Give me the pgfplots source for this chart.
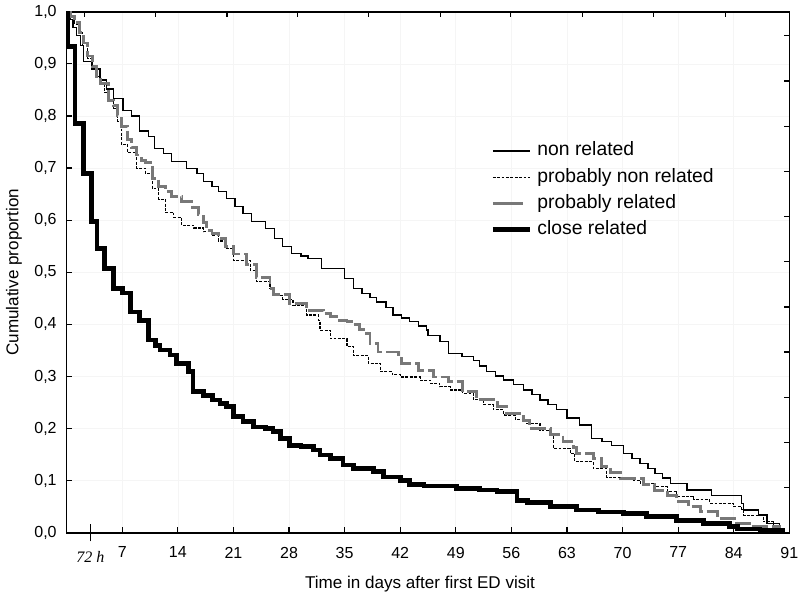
\documentclass[border=0pt]{standalone}
\usepackage{pgfplots}
\pgfplotsset{compat=1.18}
\usepackage{fontspec}
\setmainfont{Liberation Sans}
\newfontfamily\timesfont{Liberation Serif}
\pgfplotsset{graylegend/.style={legend image code/.code={\draw[##1,solid] (0pt,0pt) -- (22.5pt,0pt);}}}
\begin{document}
\begin{tikzpicture}
\begin{axis}[name=ax,
 scale only axis, width=541.95pt, height=390.75pt,
 xmin=0, xmax=91, ymin=0, ymax=1,
 axis line style={line width=1.2pt},
 tick align=inside, major tick length=4pt, tick style={black, line width=0.9pt},
 xtick pos=left, ytick pos=left,
 xtick={7,14,21,28,35,42,49,56,63,70,77,84,91},
 xticklabels={7,14,21,28,35,42,49,56,63,70,77,84,91},
 ytick={0,0.1,0.2,0.3,0.4,0.5,0.6,0.7,0.8,0.9,1.0},
 yticklabels={{0,0},{0,1},{0,2},{0,3},{0,4},{0,5},{0,6},{0,7},{0,8},{0,9},{1,0}},
 ticklabel style={font=\fontsize{12}{14}\selectfont},
 xticklabel style={yshift=-7pt},
 yticklabel style={xshift=-4pt},
 extra x ticks={3},
 extra x tick labels={\timesfont\itshape 72 h},
 extra x tick style={grid=none, tick align=center, major tick length=12.75pt, xticklabel style={yshift=3pt}},
 grid=major, major grid style={black!4, line width=0.5pt},
 xlabel={Time in days after first ED visit},
 ylabel={Cumulative proportion},
 xlabel style={at={(axis description cs:0.489,-0.0985)}, anchor=center, font=\fontsize{12.8}{15}\selectfont},
 ylabel style={at={(axis description cs:-0.0729,0.5)}, anchor=center, font=\fontsize{12.8}{15}\selectfont},
 legend cell align=left,
 legend style={draw=none, fill=none, at={(axis description cs:0.586,0.7505)}, anchor=north west,
   inner sep=0pt, row sep=6.4pt, column sep=4pt,
   nodes={inner sep=0pt, text height=10.3pt, text depth=3pt},
   font=\fontsize{14.5}{16}\selectfont},
 legend image code/.code={\draw[#1] (0pt,0pt) -- (27.75pt,0pt);},
 const plot, no markers,
]
\addplot[black, line width=1pt] coordinates {
(0,1.0) (0.4,0.985) (0.8,0.97) (1.2,0.955) (1.7,0.935) (2.1,0.905) (3.2,0.89) (4.2,0.869)
(5.0,0.852) (5.9,0.834) (7.1,0.811) (8.2,0.80) (9.2,0.771) (10.3,0.76) (11.1,0.738) (12.2,0.728)
(13.2,0.712) (15.1,0.699) (16.4,0.69) (17.2,0.674) (18.3,0.664) (19.1,0.655) (20.1,0.642)
(21.2,0.626) (22.2,0.613) (23.3,0.597) (25.0,0.584) (26.2,0.565) (27.2,0.55) (28.3,0.536)
(29.5,0.531) (30.4,0.527) (32.1,0.507) (35.0,0.488) (36.1,0.469) (37.2,0.459) (38.2,0.452)
(39.0,0.443) (40.2,0.432) (41.1,0.418) (42.2,0.412) (43.2,0.405) (44.3,0.397) (45.3,0.389)
(45.5,0.379) (47.0,0.367) (48.1,0.344) (49.8,0.338) (51.2,0.331) (52.0,0.32) (52.9,0.309)
(54.0,0.301) (55.0,0.293) (56.3,0.284) (57.5,0.274) (58.6,0.265) (59.6,0.255) (60.6,0.246)
(61.7,0.236) (63.0,0.22) (64.6,0.207) (66.1,0.181) (67.4,0.175) (68.6,0.168) (70.1,0.152)
(71.2,0.143) (72.2,0.133) (73.2,0.124) (74.1,0.114) (75.0,0.105) (76.0,0.095) (78.1,0.082)
(81.2,0.072) (85.0,0.056) (85.2,0.044) (87.1,0.034) (88.2,0.018) (89.8,0.005) (90.3,0)
};
\addlegendentry{non related}
\addplot[black, line width=0.8pt, dash pattern=on 2.2pt off 1.1pt] coordinates {
(0,1.0) (0.5,0.985) (1.0,0.975) (1.5,0.96) (2.0,0.935) (2.6,0.91) (3.2,0.89) (3.8,0.875)
(4.3,0.86) (4.8,0.845) (5.3,0.83) (5.9,0.815) (6.4,0.79) (6.9,0.745) (7.7,0.73) (8.8,0.70)
(9.9,0.69) (10.8,0.66) (11.6,0.64) (12.4,0.615) (13.5,0.605) (14.5,0.59) (16.0,0.585)
(17.2,0.578) (18.3,0.57) (19.1,0.56) (20.0,0.545) (21.0,0.523) (23.1,0.504) (23.9,0.483)
(25.6,0.469) (26.0,0.456) (27.2,0.447) (28.5,0.437) (30.2,0.418) (31.7,0.408) (31.9,0.389)
(33.2,0.372) (35.3,0.357) (36.1,0.34) (38.0,0.325) (39.5,0.309) (41.0,0.303) (42.0,0.299)
(44.5,0.293) (45.8,0.287) (47.0,0.28) (48.3,0.274) (49.9,0.268) (51.2,0.255) (52.5,0.246)
(53.7,0.236) (55.0,0.226) (56.5,0.218) (57.9,0.21) (59.6,0.197) (60.9,0.191) (61.3,0.162)
(63.4,0.152) (64.0,0.136) (66.3,0.124) (68.0,0.107) (71.4,0.101) (72.2,0.095) (73.9,0.088)
(75.6,0.079) (76.8,0.069) (78.9,0.063) (81.0,0.056) (84.0,0.05) (85.0,0.044) (85.2,0.034)
(87.7,0.021) (89.0,0.012) (89.8,0.005) (90.3,0)
};
\addlegendentry{probably non related}
\addplot[color={rgb,255:red,120;green,120;blue,120}, line width=2.2pt, dash pattern=on 12pt off 3pt,
  graylegend] coordinates {
(0,1.0) (0.5,0.99) (1.0,0.98) (1.6,0.96) (2.1,0.94) (2.6,0.915) (3.2,0.895) (3.8,0.875)
(4.3,0.862) (5.3,0.83) (5.9,0.82) (6.4,0.80) (6.9,0.78) (7.7,0.755) (8.2,0.74) (8.8,0.725)
(9.4,0.715) (9.9,0.71) (10.8,0.68) (11.6,0.665) (12.4,0.655) (13.2,0.645) (14.5,0.635)
(15.9,0.625) (16.6,0.61) (17.2,0.595) (17.6,0.58) (18.3,0.575) (19.1,0.565) (20.0,0.55)
(21.0,0.535) (22.7,0.514) (23.9,0.49) (25.6,0.469) (26.0,0.458) (28.1,0.44) (30.2,0.427)
(32.3,0.42) (33.2,0.415) (34.0,0.408) (35.3,0.405) (36.1,0.399) (36.9,0.39) (37.8,0.383)
(38.2,0.364) (39.2,0.347) (41.8,0.335) (42.2,0.325) (44.3,0.312) (46.2,0.299) (48.1,0.29)
(49.9,0.271) (51.6,0.255) (54.2,0.242) (55.4,0.229) (57.5,0.216) (58.3,0.2) (60.9,0.188)
(62.5,0.175) (63.8,0.163) (64.2,0.152) (66.3,0.143) (67.4,0.127) (68.5,0.115) (69.7,0.104)
(72.6,0.092) (74.0,0.082) (75.6,0.072) (76.8,0.06) (78.3,0.05) (79.8,0.04) (81.9,0.028)
(84.4,0.018) (86.5,0.012) (89.8,0.002) (90.5,0)
};
\addlegendentry{probably related}
\addplot[black, line width=3.5pt] coordinates {
(0,1.0) (0.1,0.933) (1.05,0.786) (2.1,0.69) (3.15,0.597) (3.8,0.545) (4.8,0.507) (5.9,0.469)
(7.0,0.46) (8.0,0.424) (9.2,0.408) (10.3,0.37) (11.2,0.36) (11.75,0.351) (13.0,0.341)
(13.85,0.325) (15.3,0.309) (15.9,0.271) (17.2,0.264) (18.4,0.255) (19.3,0.248) (20.1,0.242)
(21.0,0.223) (22.2,0.213) (23.5,0.203) (25.0,0.2) (26.0,0.194) (26.9,0.181) (28.1,0.168)
(29.5,0.165) (31.1,0.159) (31.9,0.149) (33.2,0.143) (34.8,0.13) (36.1,0.124) (38.6,0.117)
(39.9,0.107) (42.0,0.1) (43.2,0.093) (45.0,0.09) (49.1,0.085) (52.0,0.082) (54.2,0.079)
(56.7,0.062) (58.0,0.058) (60.9,0.05) (64.2,0.044) (67.0,0.04) (70.1,0.037) (73.0,0.031)
(76.8,0.024) (80.2,0.018) (83.5,0.012) (84.5,0.007) (87.3,0.004) (90.2,0)
};
\addlegendentry{close related}
\end{axis}
\begin{axis}[
 scale only axis, width=541.95pt, height=390.75pt,
 xmin=0, xmax=91, ymin=0, ymax=1,
 axis line style={draw=none},
 tick align=inside, major tick length=4pt, tick style={black, line width=0.9pt},
 xtick pos=right, ytick pos=right,
 xtick={2.2,11.2,20.2,29.1,38.0,47.1,55.9,65.0,73.9,83.0},
 ytick={0.0867,0.1734,0.2601,0.3468,0.4335,0.5202,0.6069,0.6936,0.7803,0.867,0.9537},
 xticklabels={}, yticklabels={},
]
\end{axis}
\pgfresetboundingbox
\path ([shift={(-50pt,-50.5pt)}]ax.south west) rectangle ([shift={(8pt,8.8pt)}]ax.north east);
\end{tikzpicture}
\end{document}
